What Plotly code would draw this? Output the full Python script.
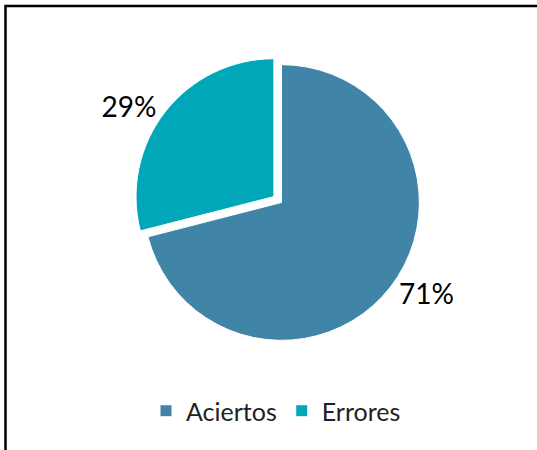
import plotly.graph_objects as go

labels = ["Aciertos", "Errores"]
values = [71, 29]
colors = ["#4084A8", "#00A7B9"]
pulls = [0, 0.07]

W, H = 537, 450
L, R, T, B = 134, 108, 55, 100
pw, ph = W - L - R, H - T - B

def px_to_paper_x(px):
    return (px - L) / pw

def px_to_paper_y(py):
    return (H - B - py) / ph

fig = go.Figure(go.Pie(
    labels=labels,
    values=values,
    sort=False,
    direction="clockwise",
    rotation=0,
    pull=pulls,
    marker=dict(colors=colors, line=dict(color="white", width=1)),
    textinfo="percent",
    texttemplate="%{percent:.0%}",
    textposition="outside",
    textfont=dict(size=28, color="black", family="Lato"),
    hoverinfo="label+percent",
))

fig.add_shape(
    type="rect", xref="paper", yref="paper",
    x0=px_to_paper_x(5.5), x1=px_to_paper_x(560),
    y0=px_to_paper_y(470), y1=px_to_paper_y(6),
    line=dict(color="black", width=2.5), fillcolor="rgba(0,0,0,0)",
)

fig.update_layout(
    width=W, height=H,
    margin=dict(l=L, r=R, t=T, b=B, autoexpand=False),
    paper_bgcolor="white",
    plot_bgcolor="white",
    font=dict(family="Lato", color="#222222"),
    showlegend=True,
    legend=dict(
        orientation="h",
        x=px_to_paper_x(276), xanchor="center",
        y=px_to_paper_y(411), yanchor="middle",
        font=dict(size=25, family="Lato", color="#222222"),
        itemwidth=30,
        traceorder="normal",
    ),
)

fig.write_html(
    "out.html",
    config={"displayModeBar": False},
    post_script="document.body.style.margin='0';document.body.style.padding='0';",
)
